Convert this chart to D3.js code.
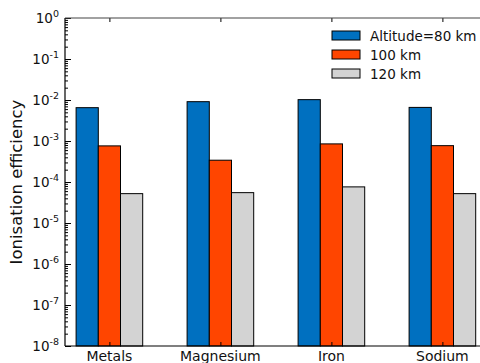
<!DOCTYPE html>
<html>
<head>
<meta charset="utf-8">
<script src="https://cdn.jsdelivr.net/npm/d3@7/dist/d3.min.js"></script>
<style>
  html, body { margin: 0; padding: 0; background: #fff; }
  svg { display: block; font-family: "DejaVu Sans", sans-serif; }
</style>
</head>
<body>
<svg id="chart" width="480" height="363"></svg>
<script>
// Ionisation efficiency per species and altitude
const categories = ["Metals", "Magnesium", "Iron", "Sodium"];
const seriesNames = ["Altitude=80 km", "100 km", "120 km"];
const alt80 = [6.5e-3, 9.1e-3, 1.02e-2, 6.6e-3];
const alt100 = [7.6e-4, 3.4e-4, 8.5e-4, 7.7e-4];
const alt120 = [5.2e-5, 5.5e-5, 7.6e-5, 5.2e-5];
const yTickExponents = [0, -1, -2, -3, -4, -5, -6, -7, -8];
const colors = ["#0070c0", "#ff4500", "#d3d3d3"];

const series = [alt80, alt100, alt120];

const svg = d3.select("#chart");
const plotLeft = 65, plotTop = 18, plotBottom = 346, plotRight = 509;

// x: category index, with a 0.2-wide bar per series
const x = d3.scaleLinear().domain([-0.4, 3.6]).range([plotLeft, plotRight]);
const y = d3.scaleLog().domain([1e-8, 1]).range([plotBottom, plotTop]);
const barW = 0.2;

// bars
series.forEach((vals, s) => {
  svg.append("g").selectAll("rect")
    .data(vals)
    .join("rect")
    .attr("x", (d, i) => x(i + (s - 1.5) * barW))
    .attr("width", x(barW) - x(0))
    .attr("y", d => y(d))
    .attr("height", d => plotBottom - y(d))
    .attr("fill", colors[s])
    .attr("stroke", "#000")
    .attr("stroke-width", 1);
});

// y axis: major and minor ticks pointing inwards
const minorTicks = [];
for (let e = -8; e < 0; e++) for (let m = 2; m <= 9; m++) minorTicks.push(m * Math.pow(10, e));
const yg = svg.append("g");
yg.append("g").attr("transform", `translate(${plotLeft},0)`)
  .call(d3.axisRight(y).tickValues(minorTicks).tickSize(3).tickFormat(""))
  .call(g => g.select(".domain").remove());
yg.append("g").attr("transform", `translate(${plotLeft},0)`)
  .call(d3.axisRight(y).tickValues(yTickExponents.map(e => Math.pow(10, e))).tickSize(6).tickFormat(""))
  .call(g => g.select(".domain").remove());
yg.selectAll("line").attr("stroke", "#000");

// y tick labels as 10 with superscript exponent
const labels = svg.append("g").selectAll("text")
  .data(yTickExponents)
  .join("text")
  .attr("x", plotLeft - 6)
  .attr("y", e => y(Math.pow(10, e)) + 5)
  .attr("text-anchor", "end")
  .attr("font-size", 13.5)
  .attr("fill", "#111");
labels.append("tspan").text("10");
labels.append("tspan").attr("dy", -6).attr("font-size", 9.5).text(e => e === 0 ? "0" : "-" + (-e));

// x axis ticks and labels
const idx = d3.range(categories.length);
svg.append("g").attr("transform", `translate(0,${plotBottom})`)
  .call(d3.axisTop(x).tickValues(idx).tickSize(4).tickFormat(""))
  .call(g => g.select(".domain").remove())
  .selectAll("line").attr("stroke", "#000");
svg.append("g").attr("transform", `translate(0,${plotTop})`)
  .call(d3.axisBottom(x).tickValues(idx).tickSize(4).tickFormat(""))
  .call(g => g.select(".domain").remove())
  .selectAll("line").attr("stroke", "#000");
svg.append("g").selectAll("text")
  .data(categories)
  .join("text")
  .attr("x", (d, i) => x(i))
  .attr("y", plotBottom + 14.5)
  .attr("text-anchor", "middle")
  .attr("font-size", 14)
  .attr("fill", "#111")
  .text(d => d);

// frame
svg.append("line").attr("x1", plotLeft).attr("x2", plotLeft).attr("y1", plotTop).attr("y2", plotBottom)
  .attr("stroke", "#000").attr("stroke-width", 1.2);
svg.append("line").attr("x1", plotLeft).attr("x2", plotRight).attr("y1", plotBottom).attr("y2", plotBottom)
  .attr("stroke", "#000").attr("stroke-width", 1.2);
svg.append("line").attr("x1", plotLeft).attr("x2", plotRight).attr("y1", plotTop).attr("y2", plotTop)
  .attr("stroke", "#444").attr("stroke-width", 1.2);

// y axis title
svg.append("text")
  .attr("transform", `translate(22,${(plotTop + plotBottom) / 2}) rotate(-90)`)
  .attr("text-anchor", "middle")
  .attr("font-size", 16.5)
  .attr("fill", "#111")
  .text("Ionisation efficiency");

// legend
const lg = svg.append("g").attr("transform", "translate(332,31)");
seriesNames.forEach((name, s) => {
  const row = lg.append("g").attr("transform", `translate(0,${s * 19})`);
  row.append("rect").attr("width", 28).attr("height", 9)
    .attr("fill", colors[s]).attr("stroke", "#000").attr("stroke-width", 1);
  row.append("text").attr("x", 38).attr("y", 9.5).attr("font-size", 13.5)
    .attr("fill", "#111").text(name);
});
</script>
</body>
</html>
